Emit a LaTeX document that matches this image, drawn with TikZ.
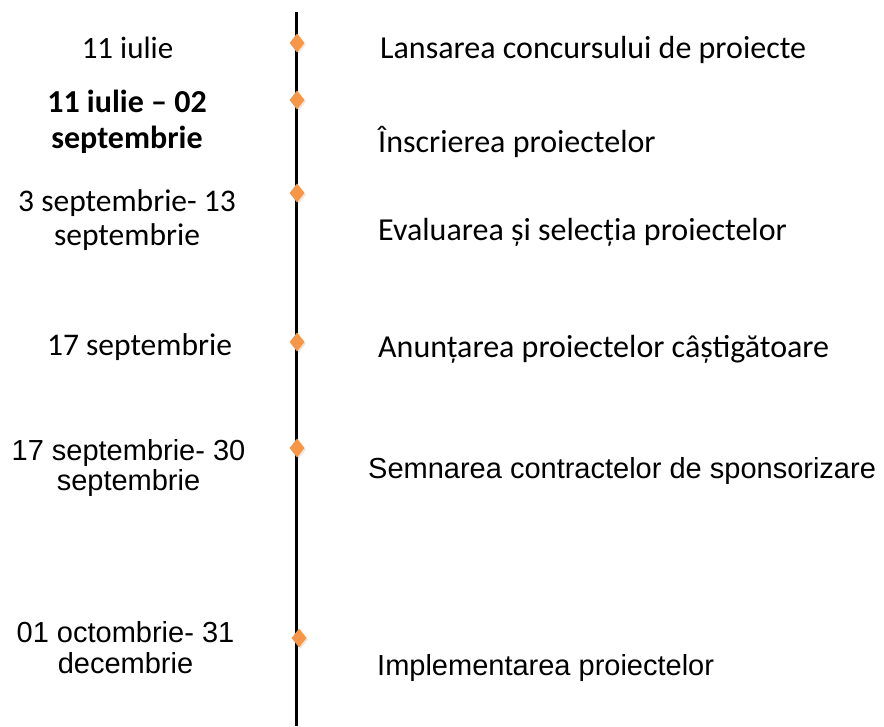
\documentclass[tikz,border=0pt]{standalone}
\usepackage{fontspec}
\setmainfont{Carlito}
\newfontfamily\arialf{Liberation Sans}
\usetikzlibrary{shapes.geometric,shadows}
\definecolor{mark}{RGB}{247,150,70}
\tikzset{
  cal/.style={font=\fontsize{32}{31}\selectfont, inner sep=0pt, anchor=base},
  ari/.style={font=\arialf\fontsize{29}{31}\selectfont, inner sep=0pt, anchor=base},
  lft/.style={anchor=base west},
  dot/.style={shape=diamond, fill=mark, minimum width=15pt, minimum height=19pt, inner sep=0pt,
    drop shadow={opacity=0.18, shadow xshift=1.5pt, shadow yshift=-1.5pt}},
}
\newcommand{\twol}[2]{\begin{tabular}[t]{@{}c@{}}#1\\#2\end{tabular}}
\begin{document}
\begin{tikzpicture}[x=1pt,y=-1pt]
\useasboundingbox (0,0) rectangle (884,726);
\coordinate (top) at (296.5,12);
\coordinate (bot) at (296.5,726);
\draw[line width=3.2pt] (top) -- (bot);
\node[dot] (m1) at (297,43) {};
\node[dot] (m2) at (297,100) {};
\node[dot] (m3) at (297,193) {};
\node[dot] (m4) at (297,342) {};
\node[dot] (m5) at (297,448) {};
\node[dot] (m6) at (299,638) {};
% left: dates
\node[cal,font=\fontsize{31}{31}\selectfont] (d1) at (127.5,58) {11 iulie};
\node[cal,font=\bfseries\fontsize{32}{36}\selectfont] (d2) at (127,112) {\twol{11 iulie – 02}{septembrie}};
\node[cal,font=\fontsize{31.5}{34}\selectfont] (d3) at (127,211) {\twol{3 septembrie- 13}{septembrie}};
\node[cal,font=\fontsize{31.5}{31}\selectfont] (d4) at (139.5,355) {17 septembrie};
\node[ari,font=\arialf\fontsize{29}{30}\selectfont] (d5) at (128.5,460) {\twol{17 septembrie- 30}{septembrie}};
\node[ari] (d6) at (125.5,642) {\twol{01 octombrie- 31}{decembrie}};
% right: events
\node[cal,lft] (e1) at (380,58) {Lansarea concursului de proiecte};
\node[cal,lft] (e2) at (378,152) {Înscrierea proiectelor};
\node[cal,lft] (e3) at (378,240) {Evaluarea și selecția proiectelor};
\node[cal,lft] (e4) at (378,357) {Anunțarea proiectelor câștigătoare};
\node[ari,lft] (e5) at (368,478) {Semnarea contractelor de sponsorizare};
\node[ari,lft] (e6) at (377,675) {Implementarea proiectelor};
\end{tikzpicture}
\end{document}
